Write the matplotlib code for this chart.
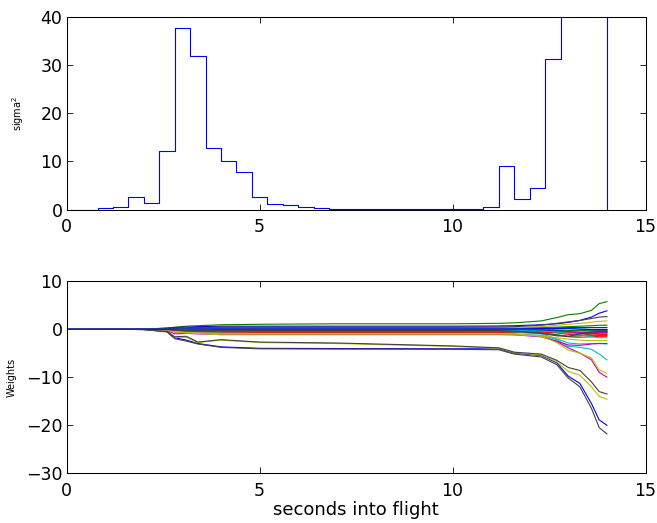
import numpy as np
import matplotlib
matplotlib.use("Agg")
import matplotlib.pyplot as plt

# --- top panel: sigma^2 stairs (0.4 s steps) ---
sig_t = [0.0, 0.4, 0.8, 1.2, 1.6, 2.0, 2.4, 2.8, 3.2, 3.6, 4.0, 4.4, 4.8, 5.2,
         5.6, 6.0, 6.4, 6.8, 7.2, 7.6, 8.0, 8.4, 8.8, 9.2, 9.6, 10.0, 10.4,
         10.8, 11.2, 11.6, 12.0, 12.4, 12.8, 13.2, 13.6, 14.0]
sig_v = [0.0, 0.0, 0.28, 0.5, 2.7, 1.45, 12.2, 37.6, 31.8, 12.7, 10.0, 7.75,
         2.7, 1.1, 0.9, 0.45, 0.3, 0.2, 0.15, 0.15, 0.15, 0.15, 0.15, 0.15,
         0.15, 0.15, 0.2, 0.6, 9.1, 2.28, 4.5, 31.2, 60.0, 110.0, 170.0, 0.0]

# --- bottom panel: weight trajectories, sampled at these times ---
T = [0, 1.0, 2.0, 2.6, 2.8, 3.1, 3.4, 4.0, 5.0, 7.0, 10.0, 11.2, 11.6, 12.3,
     12.7, 13.0, 13.3, 13.6, 13.8, 14.0]

w_blue = [
    [0, 0, -0.1, -0.5, -1.8, -2.3, -3.0, -3.7, -4.0, -4.05, -4.1, -4.1, -5.0, -5.5, -7.0, -9.8, -11.3, -15.5, -18.9, -20.0],
    [0, 0, 0, 0.2, 0.3, 0.4, 0.5, 0.6, 0.6, 0.6, 0.6, 0.65, 0.7, 0.9, 1.1, 1.4, 1.8, 2.5, 3.3, 3.8],
    [0, 0, 0, 0.05, 0.1, 0.1, 0.15, 0.2, 0.2, 0.2, 0.2, 0.2, 0.2, 0.2, 0.25, 0.3, 0.3, 0.3, 0.3, 0.3],
    [0, 0, 0, -0.05, -0.1, -0.15, -0.2, -0.2, -0.2, -0.2, -0.2, -0.2, -0.2, -0.25, -0.3, -0.3, -0.35, -0.4, -0.4, -0.4],
    [0, 0, 0, 0, 0, 0.05, 0.05, 0.05, 0.05, 0.05, 0.05, 0.05, 0.05, 0.1, 0.1, 0.1, 0.0, -0.1, -0.1, -0.1],
]
w_green = [
    [0, 0, 0, 0.2, 0.4, 0.6, 0.7, 0.9, 1.0, 1.1, 1.1, 1.2, 1.3, 1.7, 2.4, 3.0, 3.2, 3.9, 5.3, 5.7],
    [0, 0, 0, -0.1, -0.2, -0.3, -0.4, -0.5, -0.5, -0.5, -0.5, -0.5, -0.6, -0.8, -1.2, -1.5, -1.4, -1.0, -0.8, -0.8],
    [0, 0, 0, 0.1, 0.15, 0.2, 0.25, 0.3, 0.3, 0.3, 0.3, 0.3, 0.3, 0.35, 0.4, 0.5, 0.6, 0.7, 0.8, 0.8],
    [0, 0, 0, 0, -0.05, -0.1, -0.1, -0.1, -0.1, -0.1, -0.1, -0.1, -0.1, -0.1, -0.2, -0.3, -0.3, -0.2, -0.2, -0.2],
]
w_red = [
    [0, 0, 0, -0.1, -0.3, -0.5, -0.6, -0.7, -0.7, -0.7, -0.7, -0.7, -0.7, -0.8, -1.2, -1.6, -1.7, -1.6, -1.5, -1.5],
    [0, 0, 0, -0.05, -0.2, -0.3, -0.35, -0.4, -0.4, -0.4, -0.4, -0.4, -0.4, -0.5, -0.6, -0.8, -0.9, -0.9, -0.8, -0.8],
    [0, 0, 0.1, 0.1, 0.0, -0.1, -0.15, -0.2, -0.2, -0.2, -0.2, -0.2, -0.2, -0.25, -0.3, -0.5, -0.7, -1.0, -1.1, -1.1],
    [0, 0, 0, -0.1, -0.25, -0.4, -0.5, -0.55, -0.55, -0.55, -0.55, -0.55, -0.55, -0.6, -0.8, -1.1, -1.2, -1.3, -1.3, -1.3],
]
w_cyan = [
    [0, 0, 0, -0.1, -0.3, -0.5, -0.6, -0.8, -0.9, -0.9, -0.9, -0.9, -1.0, -1.3, -2.2, -3.6, -3.8, -4.2, -5.2, -6.4],
    [0, 0, 0, -0.1, -0.3, -0.4, -0.5, -0.5, -0.5, -0.5, -0.5, -0.5, -0.6, -1.0, -2.0, -2.9, -3.1, -3.0, -3.0, -3.1],
    [0, 0, 0, 0, 0.05, 0.1, 0.1, 0.1, 0.1, 0.1, 0.1, 0.1, 0.1, 0.1, 0.1, 0.1, 0.0, -0.1, -0.2, -0.2],
    [0, 0, 0, -0.05, -0.1, -0.2, -0.25, -0.3, -0.3, -0.3, -0.3, -0.3, -0.3, -0.4, -0.6, -0.9, -1.2, -1.6, -1.8, -1.8],
]
w_magenta = [
    [0, 0, 0, -0.2, -0.6, -0.8, -0.9, -1.0, -1.0, -1.0, -1.0, -1.0, -1.1, -1.5, -2.6, -3.9, -5.0, -6.4, -9.0, -10.0],
    [0, 0, 0, -0.3, -1.0, -0.9, -1.0, -1.1, -1.1, -1.1, -1.1, -1.1, -1.2, -1.6, -2.5, -3.3, -3.4, -3.1, -3.0, -3.0],
    [0, 0, 0, -0.1, -0.2, -0.3, -0.3, -0.3, -0.3, -0.3, -0.3, -0.3, -0.3, -0.4, -0.5, -0.6, -0.7, -0.7, -0.7, -0.7],
]
w_yellow = [
    [0, 0, -0.1, -0.5, -1.7, -1.7, -2.8, -2.3, -2.8, -3.0, -3.6, -4.0, -4.9, -5.4, -6.8, -8.8, -9.6, -12.0, -14.0, -14.6],
    [0, 0, 0, -0.2, -0.5, -0.7, -0.8, -0.9, -0.9, -0.9, -0.9, -0.9, -1.0, -1.5, -2.8, -4.4, -5.0, -6.0, -8.5, -9.2],
    [0, 0, 0, 0.05, 0.1, 0.15, 0.2, 0.2, 0.2, 0.2, 0.2, 0.25, 0.3, 0.5, 0.8, 1.0, 1.2, 1.4, 1.6, 1.7],
    [0, 0, 0, -0.2, -0.6, -0.8, -0.9, -1.2, -1.2, -1.2, -1.2, -1.2, -1.2, -1.4, -1.8, -2.1, -2.3, -2.4, -2.4, -2.4],
]
w_black = [
    [0, 0, -0.1, -0.6, -2.0, -2.5, -3.1, -3.8, -4.1, -4.15, -4.2, -4.3, -5.2, -5.8, -7.4, -10.2, -12.0, -16.5, -20.5, -21.8],
    [0, 0, -0.1, -0.5, -1.6, -1.5, -2.7, -2.2, -2.7, -2.9, -3.5, -3.9, -4.8, -5.2, -6.5, -8.0, -8.6, -11.0, -13.0, -13.5],
    [0, 0, 0, 0.1, 0.2, 0.3, 0.35, 0.4, 0.4, 0.4, 0.4, 0.45, 0.5, 0.8, 1.2, 1.5, 1.8, 2.2, 2.5, 2.6],
    [0, 0, 0, -0.1, -0.2, -0.3, -0.3, -0.3, -0.3, -0.3, -0.3, -0.3, -0.4, -0.9, -1.4, -1.5, -1.0, -0.6, -0.5, -0.5],
]

# matlab's old default line colours
groups = [
    (w_blue, (0, 0, 1)),
    (w_green, (0, 0.5, 0)),
    (w_red, (1, 0, 0)),
    (w_cyan, (0, 0.75, 0.75)),
    (w_magenta, (0.75, 0, 0.75)),
    (w_yellow, (0.75, 0.75, 0)),
    (w_black, (0.25, 0.25, 0.25)),
]

plt.rcParams['font.family'] = 'DejaVu Sans'

fig = plt.figure(figsize=(6.57, 5.23), dpi=100)
ax1 = fig.add_axes([0.1015, 0.5994, 0.881, 0.3686])
ax2 = fig.add_axes([0.1015, 0.095, 0.881, 0.3677])

ax1.step(sig_t, sig_v, where='post', color='b', lw=0.8)
ax1.set_xlim(0, 15)
ax1.set_ylim(0, 40)
ax1.set_xticks([0, 5, 10, 15])
ax1.set_yticks([0, 10, 20, 30, 40])
ax1.set_ylabel('sigma$^2$', fontsize=7)
ax1.yaxis.set_label_coords(-0.07, 0.5)

# plot row by row so colours interleave like matlab's cycle
nmax = max(len(g[0]) for g in groups)
for i in range(nmax):
    for lines, col in groups:
        if i < len(lines):
            ax2.plot(T, lines[i], color=col, lw=0.8)
ax2.set_xlim(0, 15)
ax2.set_ylim(-30, 10)
ax2.set_xticks([0, 5, 10, 15])
ax2.set_yticks([-30, -20, -10, 0, 10])
ax2.set_ylabel('Weights', fontsize=7)
ax2.yaxis.set_label_coords(-0.086, 0.5)
ax2.set_xlabel('seconds into flight', fontsize=13, labelpad=1)

for ax in (ax1, ax2):
    ax.tick_params(direction='in', top=True, right=True, length=4, width=0.6,
                   labelsize=12.5)
    ax.tick_params(axis='x', pad=6)
    ax.tick_params(axis='y', pad=3)
    ax.yaxis.set_major_formatter(plt.FuncFormatter(lambda v, p: f'{v:g}'.replace('-', '\u2212')))
    for s in ax.spines.values():
        s.set_linewidth(0.75)

fig.savefig('out.png', dpi=100)
